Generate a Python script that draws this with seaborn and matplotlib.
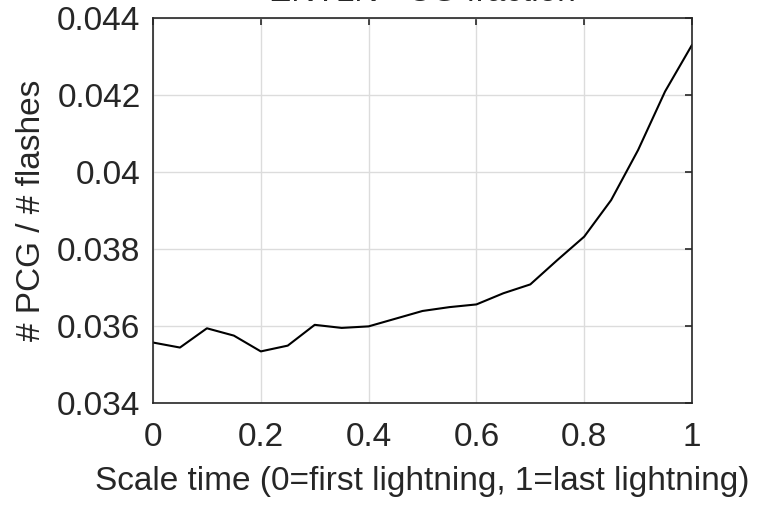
import numpy as np
import pandas as pd
import matplotlib
matplotlib.use("Agg")
import matplotlib.pyplot as plt
import seaborn as sns

scaled_time = [0.0, 0.05, 0.1, 0.15, 0.2, 0.25, 0.3, 0.35, 0.4, 0.45, 0.5,
               0.55, 0.6, 0.65, 0.7, 0.75, 0.8, 0.85, 0.9, 0.95, 1.0]
pcg_fraction = [0.03557, 0.03544, 0.03594, 0.03575, 0.03534, 0.03549, 0.03603,
                0.03595, 0.03599, 0.03619, 0.03639, 0.03649, 0.03656, 0.03685,
                0.03708, 0.03771, 0.03832, 0.03927, 0.04057, 0.04209, 0.04330]
xticks = [0, 0.2, 0.4, 0.6, 0.8, 1]
xticklabels = ["0", "0.2", "0.4", "0.6", "0.8", "1"]
yticks = [0.034, 0.036, 0.038, 0.04, 0.042, 0.044]
yticklabels = ["0.034", "0.036", "0.038", "0.04", "0.042", "0.044"]

df = pd.DataFrame({"t": scaled_time, "f": pcg_fraction})

sns.set_style("white")
plt.rcParams['font.family'] = ['Liberation Sans', 'DejaVu Sans']

fig = plt.figure(figsize=(7.67, 5.05), dpi=100)
ax = fig.add_axes([0.1995, 0.202, 0.9022 - 0.1995, 0.9644 - 0.202])

sns.lineplot(data=df, x="t", y="f", ax=ax, color="black", linewidth=1.5)

ax.set_xlim(0, 1)
ax.set_ylim(0.034, 0.044)
ax.set_xticks(xticks)
ax.set_xticklabels(xticklabels)
ax.set_yticks(yticks)
ax.set_yticklabels(yticklabels)
ax.grid(True, color="#dcdcdc", linewidth=1.0)
ax.set_axisbelow(True)
ax.tick_params(direction="in", length=5, width=1.2, colors="#262626",
               labelsize=24, top=True, right=True, labelcolor="#262626")
ax.tick_params(axis="x", pad=14)
ax.tick_params(axis="y", pad=9)
for s in ax.spines.values():
    s.set_visible(True)
    s.set_color("#262626")
    s.set_linewidth(1.2)

ax.set_xlabel("Scale time (0=first lightning, 1=last lightning)", fontsize=24,
              color="#262626", labelpad=9)
ax.set_ylabel("# PCG / # flashes", fontsize=24, color="#262626", labelpad=7)
ax.set_title("ENTLN +CG fraction", fontsize=24, color="#262626", pad=12)

fig.savefig("out.png", dpi=100)
